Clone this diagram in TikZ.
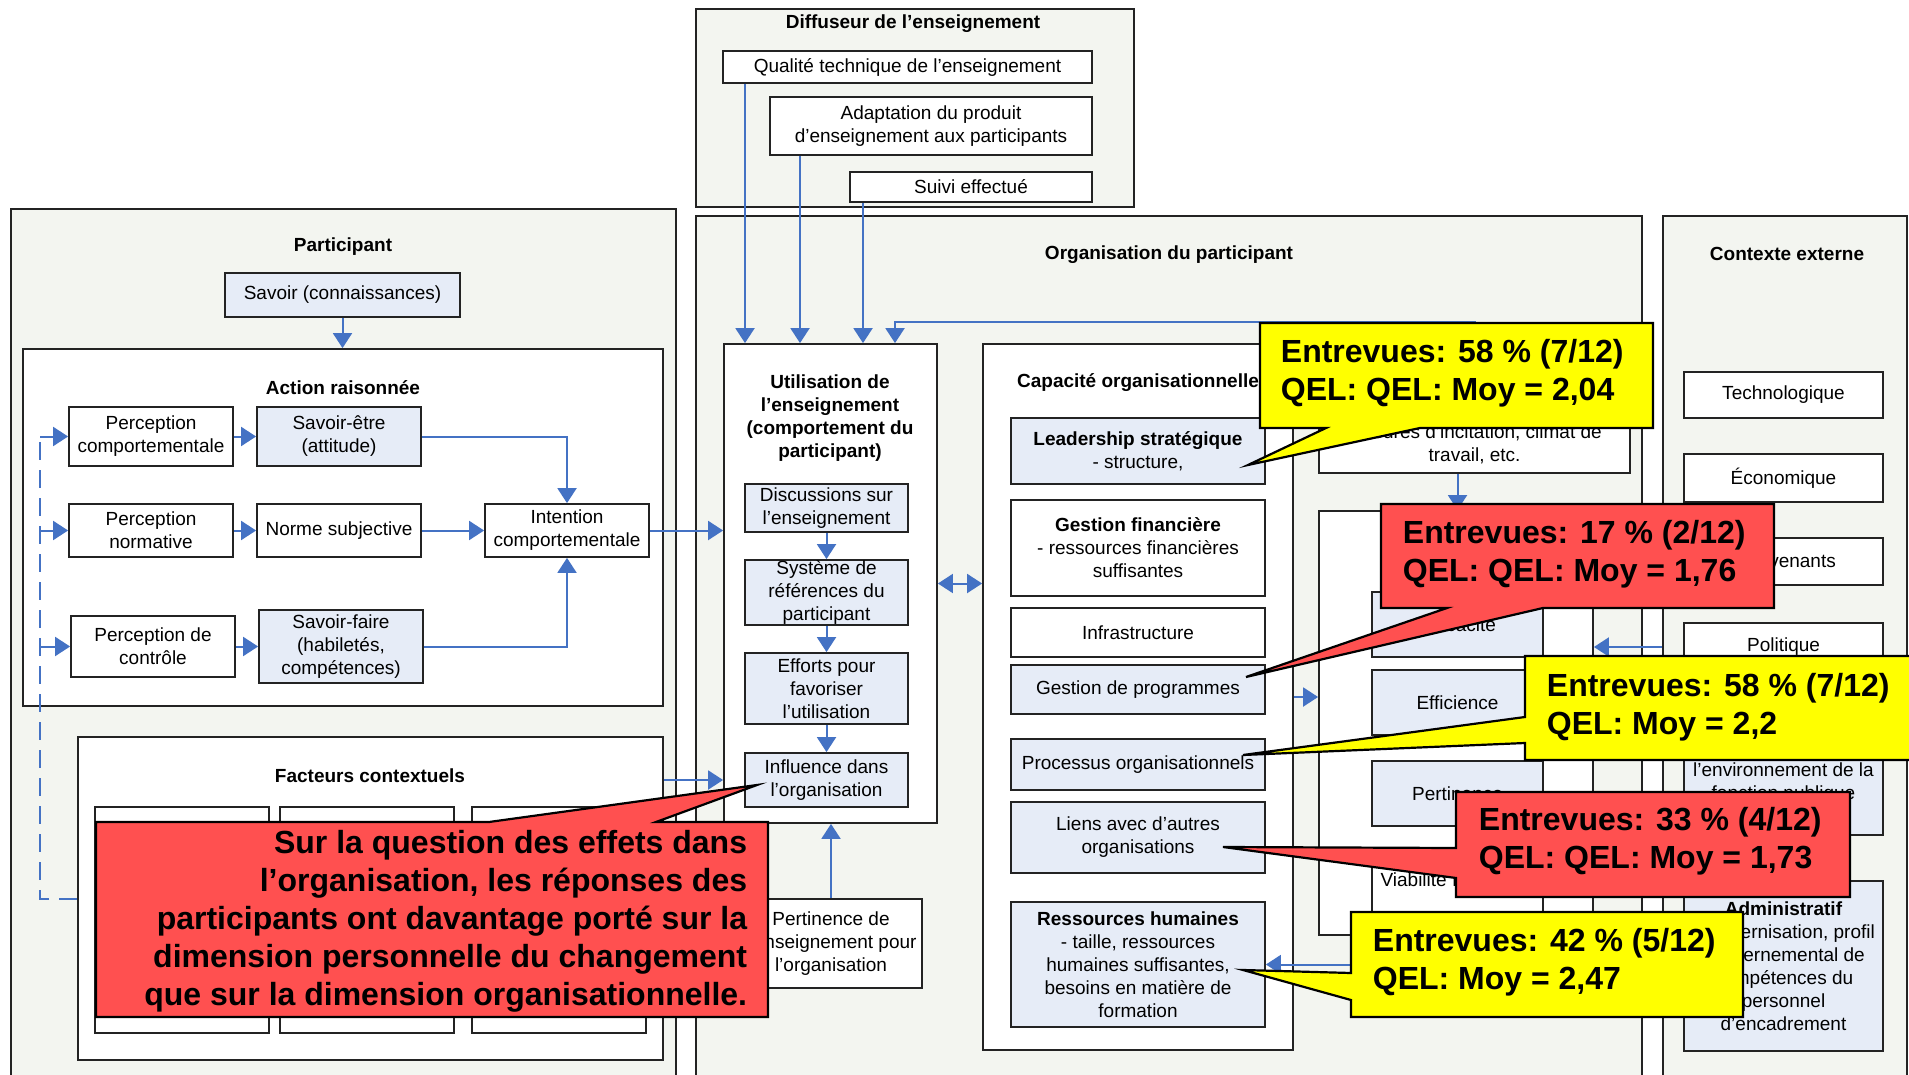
\documentclass[tikz,border=0pt]{standalone}
\usepackage{fontspec}
\setmainfont{Liberation Sans}
\usetikzlibrary{arrows.meta}

\definecolor{edge}{RGB}{35,35,35}
\definecolor{paper}{RGB}{243,245,240}
\definecolor{pale}{RGB}{230,236,247}
\definecolor{blu}{RGB}{68,114,196}
\definecolor{calyel}{RGB}{255,255,0}
\definecolor{calred}{RGB}{255,80,80}

\begin{document}
\begin{tikzpicture}[x=1pt,y=-1pt,line width=1.8pt,
    font=\fontsize{19}{23}\selectfont,
    grp/.style = {draw=edge, fill=paper, inner sep=0pt},
    wbox/.style = {draw=edge, fill=white, inner sep=0pt, align=center},
    bbox/.style = {wbox, fill=pale},
    sz/.style 2 args = {minimum width=#1pt, minimum height=#2pt},
    ttl/.style = {font=\fontsize{19}{23}\selectfont\bfseries, align=center},
    arr/.style = {draw=blu, line width=2pt, -{Triangle[width=19pt,length=15pt]}},
    dsh/.style = {draw=blu, line width=2pt, dash pattern=on 18pt off 10pt},
    note/.style = {draw=black, line width=2.2pt},
    notetxt/.style = {font=\fontsize{32}{38}\selectfont\bfseries, inner sep=0pt}
  ]
  \useasboundingbox (0,0) rectangle (1909,1075);
  \clip (0,0) rectangle (1909,1075);

  % outer frames
  \node[grp, sz={665}{876}] (part) at (343.5,647) {};
  \node[grp, sz={438}{198}] (diff) at (915,108) {};
  \node[grp, sz={946}{869}] (org) at (1169,650.5) {};
  \node[grp, sz={244}{869}] (ctx) at (1785,650.5) {};
  \node[ttl] (partT) at (343,247) {Participant};
  \node[ttl] (diffT) at (913,24) {Diffuseur de l’enseignement};
  \node[ttl] (orgT) at (1169,255) {Organisation du participant};
  \node[ttl] (ctxT) at (1787,254) {Contexte externe};

  % participant
  \node[bbox, sz={235}{44}] (savoir) at (342.5,295) {Savoir (connaissances)};
  \node[wbox, sz={640}{357}] (action) at (343,527.5) {};
  \node[ttl] (actionT) at (343,388) {Action raisonnée};
  \node[wbox, sz={164}{59}] (pcomp) at (151,436.5) {Perception\\comportementale};
  \node[bbox, sz={164}{59}] (setre) at (339,436.5) {Savoir-être\\(attitude)};
  \node[wbox, sz={164}{53}] (pnorm) at (151,530.5) {Perception\\normative};
  \node[wbox, sz={164}{53}] (norme) at (339,530.5) {Norme subjective};
  \node[wbox, sz={164}{53}] (intent) at (567,530.5) {Intention\\comportementale};
  \node[wbox, sz={164}{61}] (pctrl) at (153,646.5) {Perception de\\contrôle};
  \node[bbox, sz={164}{73}] (sfaire) at (341,646.5) {Savoir-faire\\(habiletés,\\compétences)};
  \node[wbox, sz={585}{323}] (fact) at (370.5,898.5) {};
  \node[ttl] (factT) at (370,776) {Facteurs contextuels};
  \foreach \x [count=\i] in {182,367,559}{ % three factor boxes
      \node[wbox, sz={174}{226}] (fact\i) at (\x,920) {};
    }

  % diffuseur
  \node[wbox, sz={369}{32}] (qual) at (907.5,67) {Qualité technique de l’enseignement};
  \node[wbox, sz={322}{58}] (adapt) at (931,126) {Adaptation du produit\\d'enseignement aux participants};
  \node[wbox, sz={242}{30}] (suivi) at (971,187) {Suivi effectué};

  % organisation
  \node[wbox, sz={213}{479}] (util) at (830.5,583.5) {};
  \node[ttl] (utilT) at (830,418) {Utilisation de\\l’enseignement\\(comportement du\\participant)};
  \node[bbox, sz={163}{48}] (disc) at (826.5,508) {Discussions sur\\l'enseignement};
  \node[bbox, sz={163}{65}] (syst) at (826.5,592.5) {Système de\\références du\\participant};
  \node[bbox, sz={163}{71}] (effo) at (826.5,688.5) {Efforts pour\\favoriser\\l'utilisation};
  \node[bbox, sz={163}{54}] (infl) at (826.5,780) {Influence dans\\l'organisation};
  \node[wbox, sz={182}{89}] (pert) at (831,943.5) {Pertinence de\\l'enseignement pour\\l'organisation};

  \node[wbox, sz={310}{706}] (cap) at (1138,697) {};
  \node[ttl] (capT) at (1138,383) {Capacité organisationnelle};
  \node[bbox, sz={254}{66}] (lead) at (1138,451) {\textbf{Leadership stratégique}\\- structure,};
  \node[wbox, sz={254}{96}] (gfin) at (1138,548) {\textbf{Gestion financière}\\- ressources financières\\suffisantes};
  \node[wbox, sz={254}{49}] (infra) at (1138,632.5) {Infrastructure};
  \node[bbox, sz={254}{49}] (gprog) at (1138,689.5) {Gestion de programmes};
  \node[bbox, sz={254}{51}] (proc) at (1138,764.5) {Processus organisationnels};
  \node[bbox, sz={254}{71}] (liens) at (1138,837.5) {Liens avec d'autres\\organisations};
  \node[bbox, sz={254}{125}] (rh) at (1138,964.5) {\textbf{Ressources humaines}\\- taille, ressources\\humaines suffisantes,\\besoins en matière de\\formation};

  \node[wbox, sz={311}{58}] (incit) at (1474.5,444) {Mesures d'incitation, climat de\\travail, etc.};
  \node[wbox, sz={274}{424}] (perf) at (1456,723) {};
  \node[bbox, sz={171}{65}] (effic) at (1457.5,624.5) {Efficacité};
  \node[bbox, sz={171}{65}] (effi) at (1457.5,702.5) {Efficience};
  \node[bbox, sz={171}{65}] (pertin) at (1457.5,793.5) {Pertinence};
  \node[wbox, sz={171}{64}] (viab) at (1457.5,880) {Viabilité financière};

  % contexte externe
  \foreach \nm/\yy/\hh/\lbl in {techn/395/46/Technologique, econ/478/48/Économique,
      interv/561.5/47/Intervenants, polit/647/48/Politique}{
      \node[wbox, sz={199}{\hh}] (\nm) at (1783.5,\yy) {\lbl};
    }
  \node[bbox, sz={199}{104}] (env) at (1783.5,783) {l'environnement de la\\fonction publique};
  \node[bbox, sz={199}{170}] (admin) at (1783.5,966) {\textbf{Administratif}\\- modernisation, profil\\gouvernemental de\\compétences du\\personnel\\d'encadrement};

  % connectors
  \draw[arr] (savoir.south) -- (savoir.south |- action.north);
  \draw[arr] (pcomp) -- (setre);
  \draw[arr] (pnorm) -- (norme);
  \draw[arr] (pctrl) -- (sfaire);
  \draw[arr] (setre.east) -| (intent.north);
  \draw[arr] (norme) -- (intent);
  \draw[arr] (sfaire.east) -| (intent.south);
  \coordinate (fb) at (40,898.5);
  \draw[dsh] (fact.west) -- (fb) -- (fb |- pcomp.west);
  \foreach \b in {pcomp,pnorm,pctrl}{ % feedback to perceptions
      \draw[dsh,arr] (fb |- \b.west) -- (\b.west);
    }
  \draw[arr] (intent) -- (intent -| util.west);
  \draw[arr] (fact.east |- infl) -- (util.west |- infl);
  \foreach \s/\x in {qual/745, adapt/800, suivi/863}{ % diffuseur to utilisation
      \draw[arr] (\s.south -| \x,0) -- (util.north -| \x,0);
    }
  \draw[arr] (incit.north) |- (895,322) -- (util.north -| 895,0);
  \foreach \a/\b in {disc/syst, syst/effo, effo/infl}{
      \draw[arr] (\a) -- (\b);
    }
  \draw[draw=blu, line width=2pt, {Triangle[width=19pt,length=15pt]}-{Triangle[width=19pt,length=15pt]}]
    (util.east) -- (util.east -| cap.west);
  \draw[arr] (pert) -- (pert |- util.south);
  \draw[arr] (cap) -- (cap -| perf.west);
  \draw[arr] (incit.south -| effi) -- (perf.north -| effi);
  \draw[arr] (ctx.west |- polit) -- (perf.east |- polit);
  \draw[arr] (ctx.west |- rh) -- (rh.east);

  % callouts
  \draw[note, fill=calyel] (1260,323) -- (1653,323) -- (1653,428) -- (1420,428)
    -- (1248,465) -- (1326,428) -- (1260,428) -- cycle;
  \node[notetxt, anchor=west, align=left] (c1) at (1280,373) {Entrevues: 58 \% (7/12)\\QEL: QEL: Moy = 2,04};
  \draw[note, fill=calred] (1381,504) -- (1774,504) -- (1774,608) -- (1543,608)
    -- (1246,677) -- (1447,608) -- (1381,608) -- cycle;
  \node[notetxt, anchor=west, align=left] (c2) at (1402,554) {Entrevues: 17 \% (2/12)\\QEL: QEL: Moy = 1,76};
  \draw[note, fill=calyel] (1525,656) -- (1912,656) -- (1912,760) -- (1525,760)
    -- (1525,743) -- (1243,755) -- (1525,717) -- cycle;
  \node[notetxt, anchor=west, align=left] (c3) at (1546,707) {Entrevues: 58 \% (7/12)\\QEL: Moy = 2,2};
  \draw[note, fill=calred] (1456,792) -- (1850,792) -- (1850,897) -- (1456,897)
    -- (1456,878) -- (1223,847) -- (1456,848) -- cycle;
  \node[notetxt, anchor=west, align=left] (c4) at (1478,841) {Entrevues: 33 \% (4/12)\\QEL: QEL: Moy = 1,73};
  \draw[note, fill=calyel] (1351,912) -- (1743,912) -- (1743,1017) -- (1351,1017)
    -- (1351,1000) -- (1243,970) -- (1351,973) -- cycle;
  \node[notetxt, anchor=west, align=left] (c5) at (1372,962) {Entrevues: 42 \% (5/12)\\QEL: Moy = 2,47};
  \draw[note, fill=calred] (96,822) -- (489,822) -- (757,785) -- (656,822) -- (768,822)
    -- (768,1017) -- (96,1017) -- cycle;
  \node[notetxt, anchor=east, align=right] (c6) at (748,921) {Sur la question des effets dans\\l’organisation, les réponses des\\participants ont davantage porté sur la\\dimension personnelle du changement\\que sur la dimension organisationnelle.};

\end{tikzpicture}
\end{document}
